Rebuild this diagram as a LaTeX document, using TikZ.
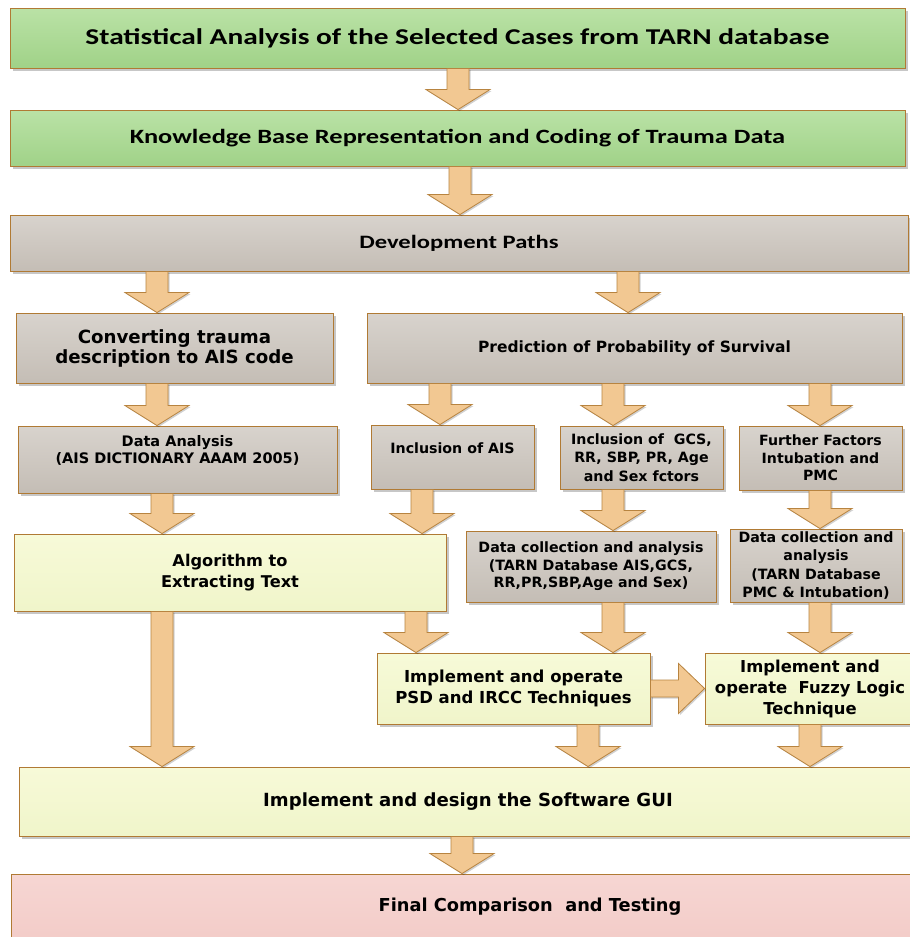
\documentclass[tikz,border=0pt]{standalone}
\usepackage{fontspec}
\setmainfont{DejaVu Sans}
\newfontfamily\calfont[FakeStretch=1.3]{Carlito}
\usetikzlibrary{calc,shadows}

% palette
\definecolor{edge}{RGB}{176,122,52}
\definecolor{greenA}{RGB}{186,226,166}
\definecolor{greenB}{RGB}{160,210,136}
\definecolor{grayA}{RGB}{216,211,205}
\definecolor{grayB}{RGB}{196,189,181}
\definecolor{yelA}{RGB}{247,250,216}
\definecolor{yelB}{RGB}{240,245,202}
\definecolor{pinkA}{RGB}{246,214,211}
\definecolor{pinkB}{RGB}{243,204,200}
\definecolor{arrowfill}{RGB}{242,200,146}
\definecolor{arrowedge}{RGB}{184,132,64}

\tikzset{
  box/.style={draw=edge, line width=0.9pt, align=center, inner sep=0pt,
    drop shadow={shadow xshift=2.5pt, shadow yshift=-2.5pt, fill=black, opacity=0.22}},
  greenbox/.style={box, top color=greenA, bottom color=greenB},
  graybox/.style={box, top color=grayA, bottom color=grayB},
  yelbox/.style={box, top color=yelA, bottom color=yelB},
  pinkbox/.style={box, top color=pinkA, bottom color=pinkB},
  fs/.style n args={2}{font=\bfseries\fontsize{#1}{#2}\selectfont},
  cf/.style n args={2}{font=\calfont\bfseries\fontsize{#1}{#2}\selectfont},
  arrowshape/.style={fill=arrowfill, draw=arrowedge, line width=0.8pt, line join=miter,
    drop shadow={shadow xshift=1.5pt, shadow yshift=-1.5pt, fill=black, opacity=0.18}},
  % vertical block arrow at canvas x = #1, from the south side of the start node
  % to the north side of the target node
  blkdown/.style={arrowshape, to path={
    let \p1=(\tikztostart.south), \p2=(\tikztotarget.north) in
    (#1pt-11pt,\y1) -- (#1pt-11pt,\y2+20pt) -- (#1pt-32pt,\y2+20pt) -- (#1pt,\y2)
    -- (#1pt+32pt,\y2+20pt) -- (#1pt+11pt,\y2+20pt) -- (#1pt+11pt,\y1) -- cycle}},
  % horizontal block arrow from east side to west side
  blkright/.style={arrowshape, to path={
    let \p1=(\tikztostart.east), \p2=(\tikztotarget.west) in
    (\x1,\y1+8.5pt) -- (\x2-26pt,\y1+8.5pt) -- (\x2-26pt,\y1+25pt) -- (\x2,\y1)
    -- (\x2-26pt,\y1-25pt) -- (\x2-26pt,\y1-8.5pt) -- (\x1,\y1-8.5pt) -- cycle}},
}

\begin{document}
\begin{tikzpicture}[x=1pt,y=-1pt]
\clip (0,0) rectangle (910,937);
\fill[white] (0,0) rectangle (910,937);

% top chain
\node[greenbox, minimum width=895pt, minimum height=60pt, cf={22.6}{26}] (t1) at (457.5,38)
  {Statistical Analysis of the Selected Cases from TARN database};
\node[greenbox, minimum width=895pt, minimum height=56pt, cf={20.3}{24}] (t2) at (457.5,138)
  {Knowledge Base Representation and Coding of Trauma Data};
\node[graybox, minimum width=898pt, minimum height=56pt, cf={18.9}{22}] (dev) at (459,243)
  {Development Paths};

% second level
\node[graybox, minimum width=317pt, minimum height=70pt, fs={18.2}{20}] (conv) at (174.5,348)
  {Converting trauma\\description to AIS code};
\node[graybox, minimum width=535pt, minimum height=70pt, fs={15.5}{18}] (pred) at (634.5,348)
  {Prediction of Probability of Survival};

% third level
\node[graybox, minimum width=319pt, minimum height=67pt] (da) at (177.5,459.5) {};
\node[fs={14.5}{17.7}, align=center] (datxt) at ($(da.center)+(0,-9)$)
  {Data Analysis\\(AIS DICTIONARY AAAM 2005)};
\node[graybox, minimum width=163pt, minimum height=64pt] (incais) at (452.5,457) {};
\node[fs={14.2}{17}, align=center] (incaistxt) at ($(incais.center)+(0,-9)$)
  {Inclusion of AIS};
\node[graybox, minimum width=163pt, minimum height=63pt, fs={14.2}{18.5}] (gcs) at (641.5,457.5)
  {Inclusion of\ \ GCS,\\RR, SBP, PR, Age\\and Sex fctors};
\node[graybox, minimum width=163pt, minimum height=64pt, fs={14.1}{17.5}] (ff) at (820.5,458)
  {Further Factors\\Intubation and\\PMC};

% fourth level
\node[yelbox, minimum width=432pt, minimum height=77pt, fs={16.2}{21}] (alg) at (230,572.5)
  {Algorithm to\\Extracting Text};
\node[graybox, minimum width=250pt, minimum height=71pt, fs={14.2}{17.5}] (dcm) at (591,566.5)
  {Data collection and analysis\\(TARN Database AIS,GCS,\\RR,PR,SBP,Age and Sex)};
\node[graybox, minimum width=172pt, minimum height=73pt, fs={14.2}{18.3}] (dcr) at (816,565.5)
  {Data collection and\\analysis\\(TARN Database\\PMC \& Intubation)};

% techniques
\node[yelbox, minimum width=273pt, minimum height=71pt, fs={16.5}{21}] (psd) at (513.5,688.5)
  {Implement and operate\\PSD and IRCC Techniques};
\node[yelbox, minimum width=210pt, minimum height=71pt, fs={16.4}{21}] (fuzzy) at (810,688.5)
  {Implement and\\operate\ \ Fuzzy Logic\\Technique};

% bottom
\node[yelbox, minimum width=898pt, minimum height=69pt, fs={18.1}{22}] (gui) at (468,801.5)
  {Implement and design the Software GUI};
\node[pinkbox, minimum width=1038pt, minimum height=66pt, fs={17.8}{22}] (final) at (530,907)
  {Final Comparison\ \ and Testing};

% block arrows
\path (t1) edge[blkdown=458] (t2);
\path (t2) edge[blkdown=460] (dev);
\path (dev) edge[blkdown=157] (conv);
\path (dev) edge[blkdown=628] (pred);
\path (conv) edge[blkdown=157] (da);
\path (pred) edge[blkdown=440] (incais);
\path (pred) edge[blkdown=613] (gcs);
\path (pred) edge[blkdown=820] (ff);
\path (da) edge[blkdown=162] (alg);
\path (incais) edge[blkdown=422] (alg);
\path (gcs) edge[blkdown=613] (dcm);
\path (ff) edge[blkdown=820] (dcr);
\path (alg) edge[blkdown=416] (psd);
\path (dcm) edge[blkdown=613] (psd);
\path (dcr) edge[blkdown=820] (fuzzy);
\path (alg) edge[blkdown=162] (gui);
\path (psd) edge[blkdown=588] (gui);
\path (fuzzy) edge[blkdown=810] (gui);
\path (gui) edge[blkdown=462] (final);
\path (psd) edge[blkright] (fuzzy);
\end{tikzpicture}
\end{document}
